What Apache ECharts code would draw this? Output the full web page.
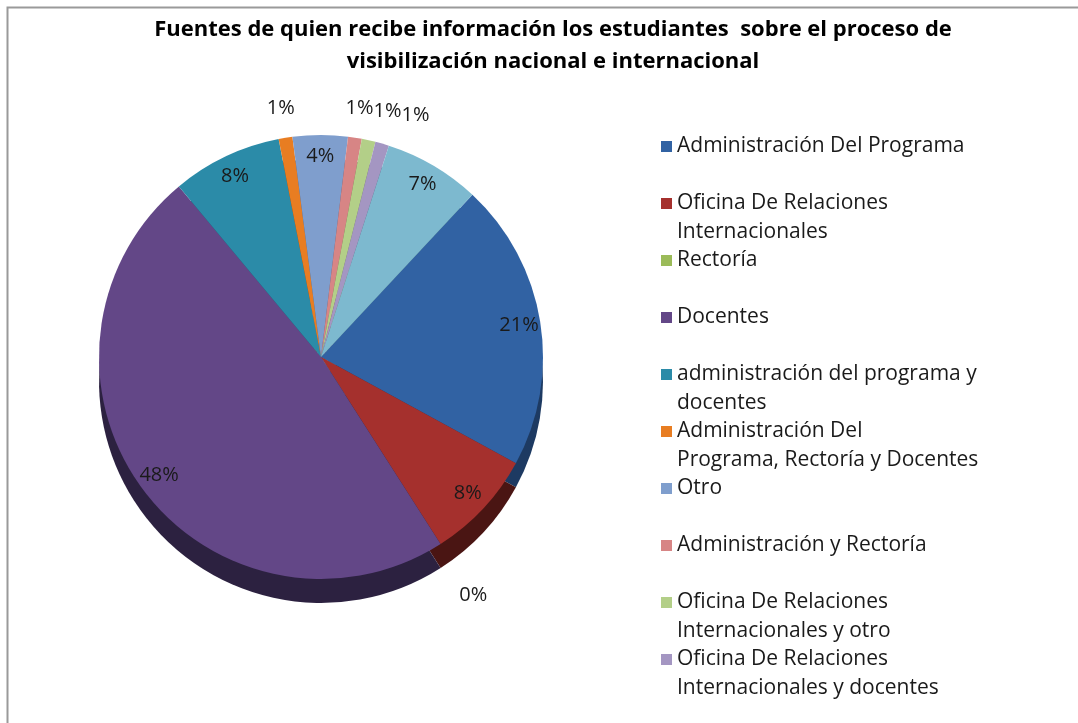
<!DOCTYPE html>
<html>
<head>
<meta charset="utf-8">
<script src="https://cdn.jsdelivr.net/npm/echarts@6/dist/echarts.min.js"></script>
<style>
html,body{margin:0;padding:0;background:#ffffff;}
#chart{width:1078px;height:723px;}
</style>
</head>
<body>
<div id="chart"></div>
<script>
// ---- data ----
const categories = [
  'Administración Del Programa',
  'Oficina De Relaciones Internacionales',
  'Rectoría',
  'Docentes',
  'administración del programa y docentes',
  'Administración Del Programa, Rectoría y Docentes',
  'Otro',
  'Administración y Rectoría',
  'Oficina De Relaciones Internacionales y otro',
  'Oficina De Relaciones Internacionales y docentes',
  'Sin especificar'
];
const values = [21, 8, 0, 48, 8, 1, 4, 1, 1, 1, 7];
const legendLabels = [
  'Administración Del Programa',
  'Oficina De Relaciones\nInternacionales',
  'Rectoría',
  'Docentes',
  'administración del programa y\ndocentes',
  'Administración Del\nPrograma, Rectoría y Docentes',
  'Otro',
  'Administración y Rectoría',
  'Oficina De Relaciones\nInternacionales y otro',
  'Oficina De Relaciones\nInternacionales y docentes'
];
const titleText = 'Fuentes de quien recibe información los estudiantes  sobre el proceso de\nvisibilización nacional e internacional';

// ---- styles ----
const topColors = ['#3162a3', '#a5302d', '#9bbb59', '#634787', '#2b8ba8', '#e87d22',
                   '#7f9ecd', '#d78585', '#b3cf88', '#a496c2', '#7db9cf'];
const sideColors = ['#1d3a62', '#4a1513', '#5a7033', '#2c2140', '#185868', '#8a4812',
                    '#4a5e7e', '#7e4c4c', '#6a7c50', '#5f5674', '#4a727e'];
const FONT = '"Open Sans", Lato, sans-serif';
const R = 222, CX = 321, CY = 357, DEPTH = 24, START = 47;
const legendCount = 10;

function items(colors, labelRule) {
  return categories.map((n, i) => ({
    name: n,
    value: values[i],
    itemStyle: { color: colors ? colors[i] : 'rgba(0,0,0,0)' },
    label: labelRule ? { show: labelRule(values[i]) } : { show: false }
  }));
}

const common = {
  type: 'pie',
  startAngle: START,
  clockwise: true,
  silent: true,
  animation: false,
  avoidLabelOverlap: false,
  emphasis: { disabled: true },
  labelLine: { show: false },
  itemStyle: { borderWidth: 0 }
};
const labelStyle = {
  position: 'inside',
  color: '#1a1a1a',
  fontFamily: FONT,
  fontSize: 20,
  formatter: p => Math.round(p.percent) + '%'
};

const chart = echarts.init(document.getElementById('chart'), null, { renderer: 'canvas' });
chart.setOption({
  backgroundColor: '#ffffff',
  title: {
    text: titleText,
    left: 548,
    top: 9,
    textAlign: 'center',
    textStyle: { fontFamily: FONT, fontSize: 22, fontWeight: 'bold', color: '#000000', lineHeight: 32 }
  },
  legend: {
    orient: 'vertical',
    left: 656,
    top: 98,
    itemWidth: 11,
    itemHeight: 11,
    itemGap: -30,
    icon: 'rect',
    selectedMode: false,
    data: categories.slice(0, legendCount).map((n, i) => ({ name: n, itemStyle: { color: topColors[i] } })),
    formatter: name => {
      const l = legendLabels[categories.indexOf(name)];
      return '\n' + (l.indexOf('\n') >= 0 ? l : l + '\n');
    },
    textStyle: { fontFamily: FONT, fontSize: 21, color: '#1a1a1a', lineHeight: 29 }
  },
  graphic: [{
    type: 'rect',
    shape: { x: 7.5, y: 7.5, width: 1200, height: 1000 },
    style: { fill: 'none', stroke: '#9a9a9a', lineWidth: 2 },
    silent: true, z: 100
  }],
  series: [
    Object.assign({}, common, {
      name: 'top', center: [CX, CY], radius: R, z: 3,
      data: items(topColors, null)
    }),
    Object.assign({}, common, {
      name: 'side', center: [CX, CY + DEPTH], radius: R, z: 2,
      data: items(sideColors, null)
    }),
    Object.assign({}, common, {
      name: 'labelsIn', center: [CX, CY], radius: [R * 0.78, R], z: 4,
      label: labelStyle,
      data: items(null, v => v >= 2)
    }),
    Object.assign({}, common, {
      name: 'labelsOut', center: [CX, CY], radius: [R * 1.02, R * 1.22], z: 4,
      label: labelStyle,
      labelLayout: { moveOverlap: 'shiftX' },
      data: items(null, v => v > 0 && v < 2)
    }),
    Object.assign({}, common, {
      name: 'labelsZero', center: [CX, CY], radius: [R * 1.12, R * 1.4], z: 4,
      label: labelStyle,
      data: items(null, v => v === 0)
    })
  ]
});
</script>
</body>
</html>
